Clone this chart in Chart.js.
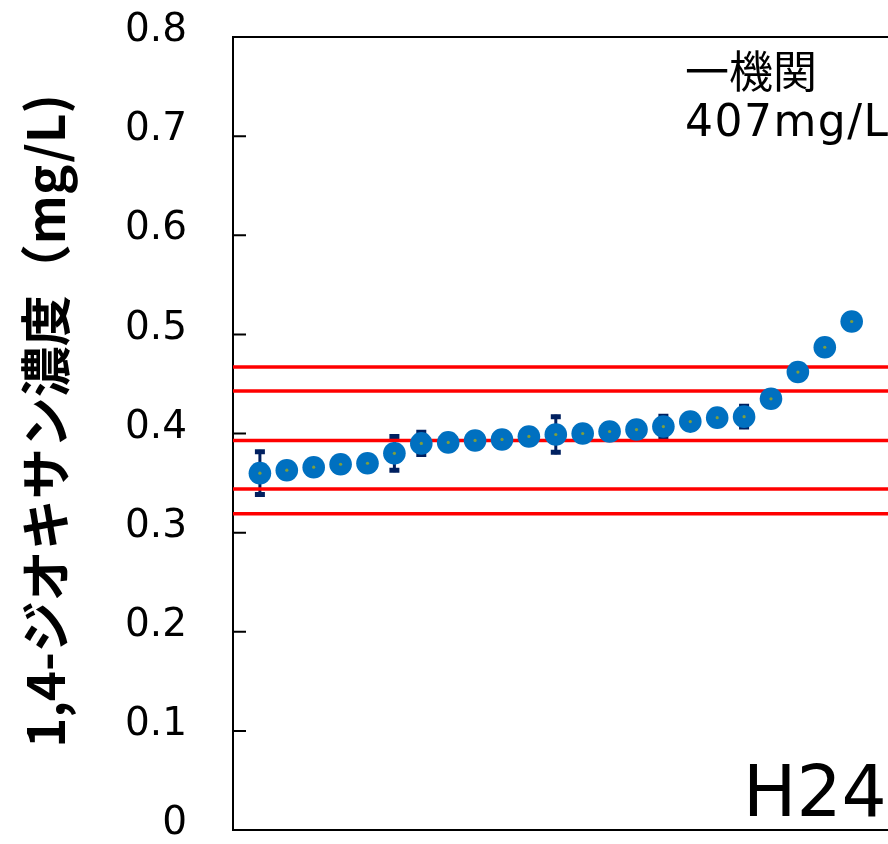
<!DOCTYPE html>
<html>
<head>
<meta charset="utf-8">
<script src="https://cdn.jsdelivr.net/npm/chart.js@4/dist/chart.umd.min.js"></script>
<style>
  html, body { margin: 0; padding: 0; background: #fff; overflow: hidden; }
  #wrap { width: 888px; height: 844px; }
</style>
</head>
<body>
<div id="wrap"><canvas id="chart"></canvas></div>
<script>
// values (mg/L), laboratories sorted by result
const labIndex = [1, 2, 3, 4, 5, 6, 7, 8, 9, 10, 11, 12, 13, 14, 15, 16, 17, 18, 19, 20, 21, 22, 23];
const concValues = [0.360, 0.363, 0.366, 0.369, 0.370, 0.380, 0.390, 0.391, 0.393, 0.394, 0.397, 0.399,
                    0.400, 0.402, 0.404, 0.407, 0.412, 0.416, 0.417, 0.435, 0.462, 0.487, 0.513];
const concErrors = [0.0235, 0, 0, 0, 0, 0.019, 0.0132, 0, 0, 0, 0, 0.02,
                    0, 0, 0, 0.0125, 0, 0, 0.0125, 0, 0, 0, 0];
// red reference lines
const refLines = [0.467, 0.443, 0.393, 0.344, 0.319];
const yTicks = [0, 0.1, 0.2, 0.3, 0.4, 0.5, 0.6, 0.7, 0.8];
const yTitle = "1,4-ジオキサン濃度（mg/L)";
const xMax = 24.35;

const points = labIndex.map((x, i) => ({ x: x, y: concValues[i] }));

function refDataset(v) {
    return {
        type: "line",
        data: [{ x: 0, y: v }, { x: xMax, y: v }],
        borderColor: "#ff0000",
        borderWidth: 3.5,
        pointRadius: 0,
        order: 3,
    };
}

// error bars drawn under the markers, red lines go over them
const errorBars = {
    id: "errorBars",
    beforeDatasetsDraw(chart) {
        const { ctx, scales: { x, y } } = chart;
        ctx.save();
        ctx.strokeStyle = "#002060";
        labIndex.forEach((lx, i) => {
            const e = concErrors[i];
            if (!e) return;
            const px = x.getPixelForValue(lx);
            const top = y.getPixelForValue(concValues[i] + e);
            const bot = y.getPixelForValue(concValues[i] - e);
            ctx.lineWidth = 3;
            ctx.beginPath();
            ctx.moveTo(px, top);
            ctx.lineTo(px, bot);
            ctx.stroke();
            ctx.lineWidth = 5;
            ctx.beginPath();
            ctx.moveTo(px - 5, top + 2);
            ctx.lineTo(px + 5, top + 2);
            ctx.moveTo(px - 5, bot - 2);
            ctx.lineTo(px + 5, bot - 2);
            ctx.stroke();
        });
        ctx.restore();
    },
};

// frame top line, inward ticks, axis title and the text labels
const decorations = {
    id: "decorations",
    afterDraw(chart) {
        const { ctx, chartArea, scales: { y } } = chart;
        ctx.save();
        ctx.strokeStyle = "#000";
        ctx.lineWidth = 2;
        ctx.beginPath();
        ctx.moveTo(chartArea.left - 1, chartArea.top);
        ctx.lineTo(chartArea.right, chartArea.top);
        yTicks.forEach(t => {
            const py = y.getPixelForValue(t);
            ctx.moveTo(chartArea.left, py);
            ctx.lineTo(chartArea.left + 13, py);
        });
        ctx.stroke();

        ctx.fillStyle = "#000";
        // y axis title, a little above the axis middle as in the original
        ctx.save();
        ctx.translate(46, 421);
        ctx.rotate(-Math.PI / 2);
        ctx.textAlign = "center";
        ctx.textBaseline = "middle";
        ctx.font = 'bold 51px "Noto Sans CJK JP"';
        ctx.fillText(yTitle, 0, 0);
        ctx.restore();

        ctx.textBaseline = "alphabetic";
        ctx.textAlign = "left";
        ctx.font = '44px "DejaVu Sans", "Noto Sans CJK JP"';
        ctx.fillText("一機関", 685, 88);
        ctx.letterSpacing = "1.5px";
        ctx.fillText("407mg/L", 685, 136);
        ctx.letterSpacing = "0px";
        ctx.font = '71px "DejaVu Sans"';
        ctx.fillText("H24", 743, 816);
        ctx.restore();
    },
};

new Chart(document.getElementById("chart"), {
    type: "scatter",
    data: {
        datasets: [
            ...refLines.map(refDataset),
            {
                label: "測定値",
                data: points,
                backgroundColor: "#0070c0",
                borderWidth: 0,
                pointRadius: 11.3,
                pointHoverRadius: 11.3,
                order: 1,
            },
            {
                label: "中心",
                data: points,
                backgroundColor: "#7f9f3c",
                borderWidth: 0,
                pointRadius: 1.6,
                order: 0,
            },
        ],
    },
    options: {
        responsive: true,
        maintainAspectRatio: false,
        animation: false,
        layout: {
            autoPadding: false,
            padding: { top: 37, bottom: 14, left: 0, right: 0 },
        },
        plugins: {
            legend: { display: false },
            tooltip: { enabled: false },
        },
        scales: {
            x: {
                type: "linear",
                min: 0,
                max: xMax,
                ticks: { display: false },
                grid: { display: false, drawTicks: false },
                border: { display: true, color: "#000", width: 2 },
                afterFit(scale) {
                    scale.height = 0;
                    scale.paddingLeft = 0;
                    scale.paddingRight = 0;
                },
            },
            y: {
                min: 0,
                max: 0.8,
                afterBuildTicks(scale) {
                    scale.ticks = yTicks.map(v => ({ value: v }));
                },
                ticks: {
                    color: "#000",
                    padding: 46,
                    labelOffset: -6,
                    font: { family: '"DejaVu Sans"', size: 39 },
                },
                grid: { display: false, drawTicks: false },
                border: { display: true, color: "#000", width: 2 },
                afterFit(scale) {
                    scale.width = 233;
                    // the chart area is set by layout padding, not by label overhang
                    scale.paddingTop = 0;
                    scale.paddingBottom = 0;
                },
            },
        },
    },
    plugins: [errorBars, decorations],
});
</script>
</body>
</html>
